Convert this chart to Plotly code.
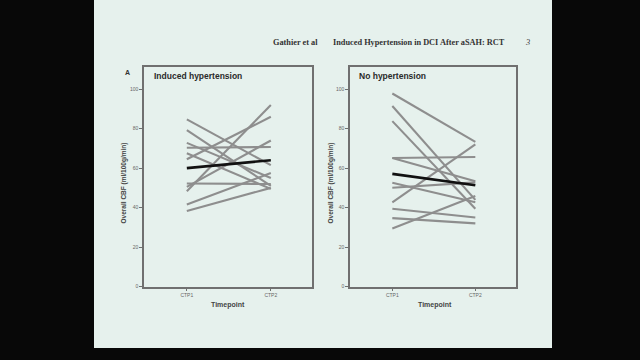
import plotly.graph_objects as go

# ---- data ----
timepoints = ["CTP1", "CTP2"]
y_ticks = [0, 20, 40, 60, 80, 100]

ih_ctp1 = [84.7, 79.2, 72.8, 70.3, 67.5, 64.5, 52.2, 50.5, 48.3, 41.6, 38.3]
ih_ctp2 = [61.5, 51.0, 55.0, 70.7, 49.5, 86.0, 52.0, 74.0, 92.0, 57.5, 50.0]
ih_mean = [60.0, 64.0]

nh_ctp1 = [97.8, 91.5, 83.8, 65.1, 65.1, 52.6, 50.1, 42.6, 39.4, 34.7, 29.4]
nh_ctp2 = [73.3, 43.9, 39.4, 65.6, 53.4, 42.7, 52.8, 72.0, 35.0, 32.0, 45.9]
nh_mean = [57.1, 51.3]

panel_titles = ["Induced hypertension", "No hypertension"]
header_left = "Gathier et al"
header_mid = "Induced Hypertension in DCI After aSAH: RCT"
y_title = "Overall CBF (ml/100g/min)"
x_title = "Timepoint"

W, H = 640, 360
GRAY = "#8e8e8e"
FRAME = "#707070"
SLIDE = "#e6f1ed"
BG = "#080808"

fig = go.Figure()

xpos = [0, 1]
panels = [(ih_ctp1, ih_ctp2, ih_mean, "x", "y"), (nh_ctp1, nh_ctp2, nh_mean, "x2", "y2")]
for a, b, m, xa, ya in panels:
    for s, e in zip(a, b):
        fig.add_trace(go.Scatter(x=xpos, y=[s, e], mode="lines",
                                 line=dict(color=GRAY, width=2.1),
                                 xaxis=xa, yaxis=ya, showlegend=False, hoverinfo="skip"))
    fig.add_trace(go.Scatter(x=xpos, y=m, mode="lines",
                             line=dict(color="#111111", width=2.6),
                             xaxis=xa, yaxis=ya, showlegend=False, hoverinfo="skip"))

def px(x):
    return x / W

def py(y):
    return 1 - y / H

yd = [py(289), py(68)]
axis_common = dict(showline=True, mirror=True, linecolor=FRAME, linewidth=1.5,
                   showgrid=False, zeroline=False, ticks="outside", ticklen=3,
                   tickcolor=FRAME, tickwidth=1,
                   tickfont=dict(family="Arial, Liberation Sans", size=5, color="#666666"))

xax = dict(axis_common, range=[-0.51, 1.49], tickvals=xpos, ticktext=timepoints)
yax = dict(axis_common, range=[0, 111], tickvals=y_ticks)

fig.update_layout(
    width=W, height=H,
    margin=dict(l=0, r=0, t=0, b=0),
    paper_bgcolor=BG,
    plot_bgcolor="rgba(0,0,0,0)",
    xaxis=dict(xax, domain=[px(144), px(312)], anchor="y"),
    yaxis=dict(yax, domain=yd, anchor="x"),
    xaxis2=dict(xax, domain=[px(350), px(516)], anchor="y2"),
    yaxis2=dict(yax, domain=yd, anchor="x2"),
    showlegend=False,
)

fig.add_shape(type="rect", xref="paper", yref="paper",
              x0=px(94), x1=px(552), y0=py(351), y1=1.0,
              fillcolor=SLIDE, line=dict(width=0), layer="below")

serif = "Liberation Serif, Times New Roman, serif"
sans = "Liberation Sans, Arial, sans-serif"

def note(x, y, text, font, xanchor="left", angle=0):
    return dict(x=px(x), y=py(y), xref="paper", yref="paper", text=text, showarrow=False,
                xanchor=xanchor, yanchor="middle", textangle=angle, font=font)

hf = dict(family=serif, size=8.3, color="#333333")
ann = [
    note(271, 43, "<b>" + header_left + "</b>", hf),
    note(331, 43, "<b>" + header_mid + "</b>", hf),
    note(523, 43, "<i>3</i>", hf),
    note(127, 73, "<b>A</b>", dict(family=sans, size=7, color="#333333"), "center"),
]
for title, x0 in zip(panel_titles, [152, 357]):
    ann.append(note(x0, 77, "<b>" + title + "</b>", dict(family=sans, size=8.5, color="#2a2a2a")))
for cx, ycx in [(228, 124), (435, 331)]:
    ann.append(note(cx, 308, "<b>" + x_title + "</b>", dict(family=sans, size=7, color="#444444"), "center"))
    ann.append(note(ycx, 185, "<b>" + y_title + "</b>", dict(family=sans, size=6.5, color="#444444"),
                    "center", -90))
fig.update_layout(annotations=ann)

fig.write_html("out.html", config={"displayModeBar": False},
               post_script="document.body.style.margin='0';document.body.style.background='%s';" % BG)
